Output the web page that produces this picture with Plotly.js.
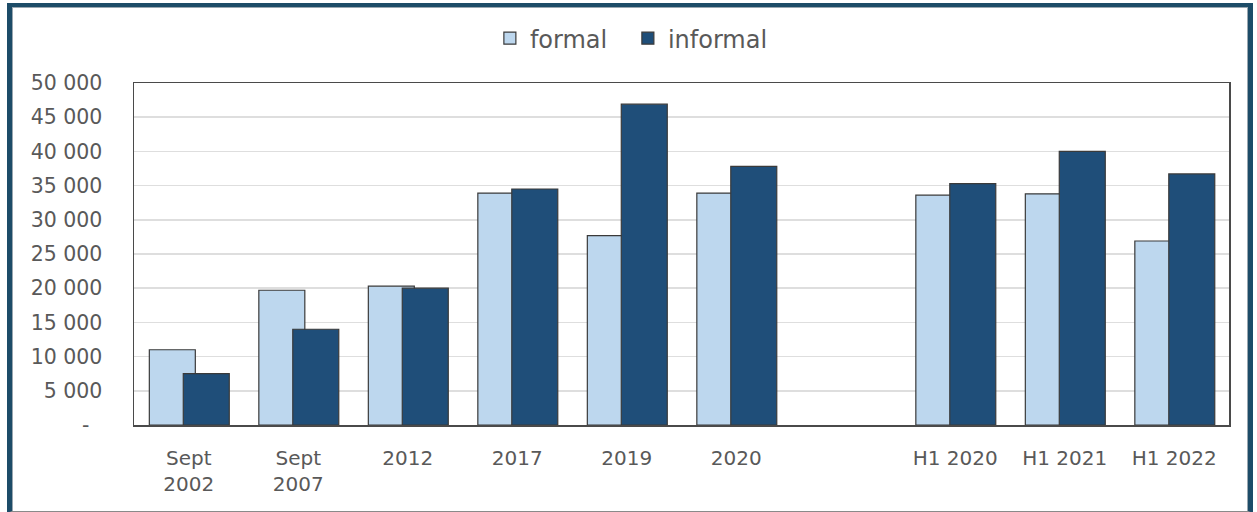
<!DOCTYPE html>
<html>
<head>
<meta charset="utf-8">
<script src="https://cdn.plot.ly/plotly-3.0.1.min.js"></script>
<style>
  html, body { margin: 0; padding: 0; background: #ffffff; }
  #wrap { position: relative; width: 1257px; height: 512px; overflow: hidden; background: #fff; }
  #chart { position: absolute; left: 0; top: 0; width: 1257px; height: 512px; }
  #frame {
    position: absolute; left: 7px; top: 3px; width: 1236px; height: 504px;
    border-left: 5px solid #1D4C68; border-right: 5px solid #1D4C68;
    border-top: 4px solid #1D4C68; border-bottom: 2px solid #8a8a8a;
    box-shadow: inset 1px 1px 0 #9aa7b0, inset -1px 0 0 #9aa7b0;
    pointer-events: none;
  }
</style>
</head>
<body>
<div id="wrap">
  <div id="chart"></div>
  <div id="frame"></div>
</div>
<script>
// Categories (a blank slot separates annual data from half-year data)
const categories = ["Sept<br>2002", "Sept<br>2007", "2012", "2017", "2019", "2020", " ", "H1 2020", "H1 2021", "H1 2022"];
const formal   = [11000, 19700, 20300, 33900, 27700, 33900, null, 33600, 33800, 26900];
const informal = [7500, 14000, 20000, 34500, 46900, 37800, null, 35300, 40000, 36700];
const yTickVals = [0, 5000, 10000, 15000, 20000, 25000, 30000, 35000, 40000, 45000, 50000];
const yTickText = ["-\u00a0\u00a0", "5 000", "10 000", "15 000", "20 000", "25 000", "30 000", "35 000", "40 000", "45 000", "50 000"];

const FONT = "DejaVu Sans, Verdana, sans-serif";
const outline = { color: "#3a3a3a", width: 1.2 };

const traces = [
  {
    type: "bar", name: "formal", x: categories, y: formal,
    width: 0.42, offset: -0.36,
    marker: { color: "#BDD7EE", line: outline },
    hoverinfo: "x+y"
  },
  {
    type: "bar", name: "informal", x: categories, y: informal,
    width: 0.42, offset: -0.05,
    marker: { color: "#1F4E79", line: outline },
    hoverinfo: "x+y"
  }
];

const layout = {
  width: 1257, height: 512,
  margin: { l: 134, r: 28, t: 83, b: 87 },
  paper_bgcolor: "#ffffff", plot_bgcolor: "#ffffff",
  barmode: "overlay",
  showlegend: true,
  legend: {
    orientation: "h", x: 0.325, xanchor: "left", y: 1.13, yanchor: "middle",
    font: { family: FONT, size: 24, color: "#595959" },
    bgcolor: "rgba(0,0,0,0)", itemwidth: 30, traceorder: "normal",
    entrywidth: 93
  },
  xaxis: {
    type: "category", categoryorder: "array", categoryarray: categories,
    showline: true, linecolor: "#4a4a4a", linewidth: 1.5, mirror: true,
    showgrid: false, ticks: "", ticklabelstandoff: 14,
    tickfont: { family: FONT, size: 20, color: "#595959" },
    zeroline: false, fixedrange: true
  },
  yaxis: {
    range: [0, 50000],
    tickvals: yTickVals, ticktext: yTickText,
    showline: true, linecolor: "#4a4a4a", linewidth: 1.5, mirror: true,
    showgrid: true, gridcolor: "#DEDEDE", gridwidth: 1.5,
    ticks: "", ticklabelstandoff: 26,
    tickfont: { family: FONT, size: 20.5, color: "#595959" },
    zeroline: false, fixedrange: true
  }
};

Plotly.newPlot("chart", traces, layout, { displayModeBar: false, staticPlot: true });
</script>
</body>
</html>
